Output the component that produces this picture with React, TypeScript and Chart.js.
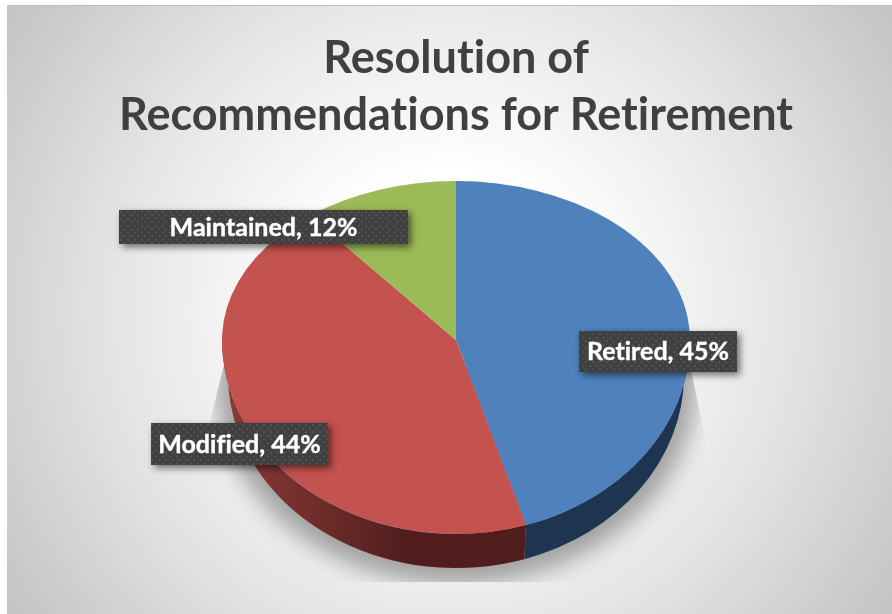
import React, { useEffect, useRef } from "react";
import { Chart, registerables } from "chart.js";

Chart.register(...registerables);

const TITLE_LINES = ["Resolution of", "Recommendations for Retirement"];
const CATEGORIES = ["Retired", "Modified", "Maintained"];
const SHARES = [45.3, 43.5, 11.5];
const FACE_COLORS = ["#4f81bd", "#c4524f", "#9bbb59"];

// Pixel geometry of the tilted pie
const RX = 234;
const RY_TOP = 159;
const RY_BOTTOM = 194;
const BASE_RX = 228;
const BASE_RY = 193;
const BASE_DROP = 35;
const FAR_SIDE_FORESHORTENING = 0.91;

// Label boxes, relative to the pie centre: [dx, dy, width, height]
const LABEL_BOXES = [
  [202, 11.5, 158, 41],
  [-216.5, 104, 177, 42],
  [-192.5, -113, 289, 34],
];

const W = 892;
const H = 614;

function makePattern(ctx: CanvasRenderingContext2D) {
  const c = document.createElement("canvas");
  c.width = 7;
  c.height = 7;
  const p = c.getContext("2d")!;
  p.fillStyle = "#404040";
  p.fillRect(0, 0, 7, 7);
  p.fillStyle = "#525252";
  p.fillRect(1, 1, 2, 2);
  p.fillRect(4, 4, 2, 2);
  return ctx.createPattern(c, "repeat")!;
}

// Perspective: radial edges on the far half of the disc lean closer to vertical.
function farAngle(a: number) {
  const top = (3 * Math.PI) / 2;
  if (a <= Math.PI || a >= top) return a;
  return top - Math.atan(Math.tan(top - a) * FAR_SIDE_FORESHORTENING);
}

const pie3d = {
  id: "pie3d",
  beforeDraw(chart: any) {
    const ctx: CanvasRenderingContext2D = chart.ctx;
    (ctx as any).letterSpacing = "0.01px"; // no "ti" ligatures
    ctx.save();
    ctx.fillStyle = "#ffffff";
    ctx.fillRect(0, 0, W, H);
    const g = ctx.createRadialGradient(450, 310, 0, 450, 310, 545);
    g.addColorStop(0, "#ffffff");
    g.addColorStop(0.25, "#ffffff");
    g.addColorStop(0.6, "#e6e6e6");
    g.addColorStop(1, "#c2c2c2");
    ctx.fillStyle = g;
    ctx.fillRect(7, 6, W - 7, H - 6);
    ctx.fillStyle = "#bdbdbd";
    ctx.fillRect(7, 5, W - 7, 1);
    ctx.restore();
  },
  beforeDatasetsDraw(chart: any) {
    const ctx: CanvasRenderingContext2D = chart.ctx;
    const arcs = chart.getDatasetMeta(0).data;
    const { x: cx, y: cy, outerRadius: r } = arcs[0];

    // soft cast shadow, hard-clipped at the sides and bottom
    ctx.save();
    ctx.beginPath();
    ctx.moveTo(cx - 232, cy + 25);
    ctx.lineTo(cx - 247, cy + 85);
    ctx.lineTo(cx - 247, cy + 242);
    ctx.lineTo(cx + 252, cy + 242);
    ctx.lineTo(cx + 252, cy + 112);
    ctx.lineTo(cx + 234, cy + 25);
    ctx.closePath();
    ctx.clip();
    (ctx as any).filter = "blur(11px)";
    ctx.fillStyle = "rgba(0,0,0,0.32)";
    ctx.beginPath();
    ctx.ellipse(cx, cy + BASE_DROP + 8, BASE_RX + 12, BASE_RY + 8, 0, 0, Math.PI * 2);
    ctx.fill();
    ctx.restore();

    // side wall
    const redSide = ctx.createLinearGradient(cx - 232, 0, cx + 70, 0);
    redSide.addColorStop(0, "#8c3a38");
    redSide.addColorStop(0.3, "#6f2d2b");
    redSide.addColorStop(0.6, "#511e1d");
    redSide.addColorStop(1, "#4f1d1c");
    const sides = ["#1f3450", redSide, "#5f7436"];
    arcs.forEach((arc: any, i: number) => {
      const a = Math.max(arc.startAngle, 0);
      const b = Math.min(arc.endAngle, Math.PI);
      if (a >= b) return;
      ctx.save();
      ctx.fillStyle = sides[i];
      ctx.beginPath();
      ctx.ellipse(cx, cy + BASE_DROP, BASE_RX, BASE_RY, 0, a, b);
      ctx.ellipse(cx, cy, RX, RY_BOTTOM, 0, b, a, true);
      ctx.closePath();
      ctx.fill();
      ctx.restore();
    });

    // far half of the face, then leave the near half to the library's own draw
    ctx.save();
    ctx.beginPath();
    ctx.rect(0, 0, W, cy + 0.5);
    ctx.clip();
    ctx.translate(cx, cy);
    ctx.scale(RX / r, RY_TOP / r);
    ctx.translate(-cx, -cy);
    arcs.forEach((arc: any) => {
      const { startAngle, endAngle } = arc;
      arc.startAngle = farAngle(startAngle);
      arc.endAngle = farAngle(endAngle);
      arc.draw(ctx);
      arc.startAngle = startAngle;
      arc.endAngle = endAngle;
    });
    ctx.restore();

    ctx.save();
    ctx.beginPath();
    ctx.rect(0, cy, W, H - cy);
    ctx.clip();
    ctx.translate(cx, cy);
    ctx.scale(RX / r, RY_BOTTOM / r);
    ctx.translate(-cx, -cy);
  },
  afterDatasetsDraw(chart: any) {
    chart.ctx.restore();
  },
  afterDraw(chart: any) {
    const ctx: CanvasRenderingContext2D = chart.ctx;
    const arcs = chart.getDatasetMeta(0).data;
    const { x: cx, y: cy } = arcs[0];
    const pattern = makePattern(ctx);
    CATEGORIES.forEach((name, i) => {
      const [dx, dy, w, h] = LABEL_BOXES[i];
      const x = cx + dx - w / 2;
      const y = cy + dy - h / 2;
      ctx.save();
      ctx.shadowColor = "rgba(0,0,0,0.55)";
      ctx.shadowBlur = 7;
      ctx.shadowOffsetX = 3;
      ctx.shadowOffsetY = 3;
      ctx.fillStyle = "#404040";
      ctx.fillRect(x, y, w, h);
      ctx.restore();
      ctx.save();
      ctx.fillStyle = pattern;
      ctx.fillRect(x, y, w, h);
      ctx.font = "bold 25px Lato";
      ctx.fillStyle = "#ffffff";
      ctx.strokeStyle = "#ffffff";
      ctx.lineWidth = 0.4;
      ctx.textAlign = "center";
      ctx.textBaseline = "middle";
      const text = `${name}, ${Math.round(SHARES[i])}%`;
      ctx.fillText(text, cx + dx, cy + dy + 0.5);
      ctx.strokeText(text, cx + dx, cy + dy + 0.5);
      ctx.restore();
    });
  },
};

export default function App() {
  const ref = useRef<HTMLCanvasElement>(null);
  useEffect(() => {
    const chart = new Chart(ref.current!, {
      type: "pie",
      data: {
        labels: CATEGORIES,
        datasets: [
          {
            data: SHARES,
            backgroundColor: FACE_COLORS,
            borderWidth: 0,
            clip: false,
          },
        ],
      },
      options: {
        animation: false,
        responsive: false,
        devicePixelRatio: 1,
        layout: { padding: { left: 20, right: 0, top: 0, bottom: 78 } },
        plugins: {
          legend: { display: false },
          tooltip: { enabled: false },
          title: {
            display: true,
            text: TITLE_LINES,
            color: "#404040",
            font: { family: "Lato", weight: "bold", size: 45, lineHeight: 57 / 45 },
            padding: { top: 30, bottom: 0 },
          },
        },
      },
      plugins: [pie3d],
    } as any);
    return () => chart.destroy();
  }, []);
  return (
    <div style={{ position: "absolute", left: 0, top: 0, width: W, height: H }}>
      <canvas ref={ref} width={W} height={H} style={{ display: "block" }} />
    </div>
  );
}
